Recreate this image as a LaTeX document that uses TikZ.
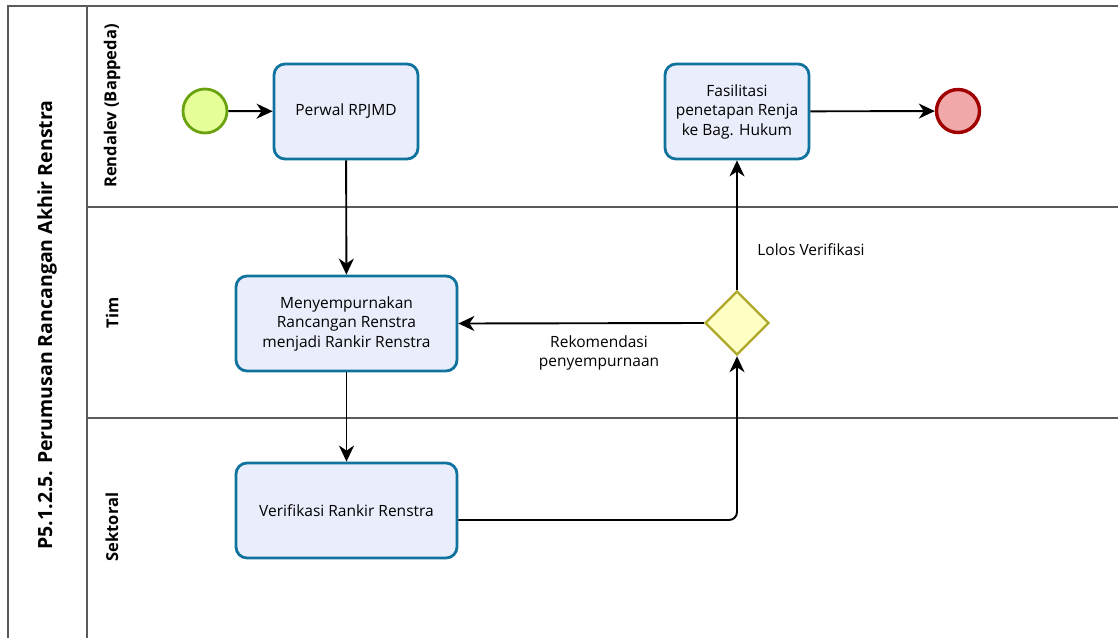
\documentclass[tikz,border=0pt]{standalone}
\usepackage{fontspec}
\setmainfont{Open Sans}
\usetikzlibrary{shapes.geometric,arrows.meta}
\definecolor{taskfill}{HTML}{EAEEFC}
\definecolor{taskdraw}{HTML}{10739E}
\definecolor{startfill}{HTML}{E6FF99}
\definecolor{startdraw}{HTML}{6AA30F}
\definecolor{endfill}{HTML}{F0A8A8}
\definecolor{enddraw}{HTML}{A10000}
\definecolor{gwfill}{HTML}{FFFFC4}
\definecolor{gwdraw}{HTML}{ADA92A}
\definecolor{poolline}{HTML}{5A5A5A}
\begin{document}
\begin{tikzpicture}[x=1pt,y=-1pt,
  txt/.style={font=\fontsize{15.5}{19.5}\selectfont},
  task/.style={draw=taskdraw,fill=taskfill,line width=2.8pt,rounded corners=11pt,
    align=center,txt,inner sep=0pt},
  startev/.style={circle,draw=startdraw,fill=startfill,line width=2.8pt,minimum size=44pt,inner sep=0pt},
  endev/.style={circle,draw=enddraw,fill=endfill,line width=3.4pt,minimum size=43pt,inner sep=0pt},
  gateway/.style={diamond,draw=gwdraw,fill=gwfill,line width=2.4pt,minimum width=64pt,minimum height=64pt,inner sep=0pt},
  flow/.style={draw=black,line width=1.9pt,-{Stealth[length=16pt,width=15pt,inset=5pt]}},
  lbl/.style={txt,align=center},
  lanelbl/.style={rotate=90,font=\fontsize{16.5}{19}\selectfont\bfseries},
  pool/.style={draw=poolline,line width=1.8pt}]
\useasboundingbox (0,0) rectangle (1118,637);
% pool and lanes
\draw[pool] (1120,6) -- (8,6) -- (8,640);
\draw[pool] (87,6) -- (87,640);
\draw[pool] (87,207) -- (1120,207);
\draw[pool] (87,418) -- (1120,418);
\node[rotate=90,font=\fontsize{19.5}{23}\selectfont\bfseries] (pooltitle) at (47,325) {P5.1.2.5. Perumusan Rancangan Akhir Renstra};
\node[lanelbl] (lane1) at (112,106) {Rendalev (Bappeda)};
\node[lanelbl] (lane2) at (112,313) {Tim};
\node[lanelbl] (lane3) at (112,527) {Sektoral};
% nodes
\node[startev] (start) at (205,111) {};
\node[task,minimum width=144pt,minimum height=95pt] (perwal) at (346,111.5) {Perwal RPJMD};
\node[task,minimum width=144pt,minimum height=95pt] (fasil) at (737,111.5) {Fasilitasi\\penetapan Renja\\ke Bag. Hukum};
\node[endev] (end) at (958,111) {};
\node[task,minimum width=221pt,minimum height=95pt] (menyemp) at (346.5,323.5) {Menyempurnakan\\Rancangan Renstra\\menjadi Rankir Renstra};
\node[gateway] (gw) at (737,323) {};
\node[task,minimum width=221pt,minimum height=95pt] (verif) at (346.5,510.5) {Verifikasi Rankir Renstra};
% flows
\draw[flow] (start) -- (perwal);
\draw[flow] (fasil) -- (end);
\draw[flow] (perwal) -- (menyemp);
\draw[flow] (menyemp) -- (verif);
\coordinate (corner) at (737,520);
\draw[flow,rounded corners=8pt] (verif.east |- corner) -- (corner) -- (gw.south);
\draw[flow] (gw.west) -- (menyemp.east);
\draw[flow] (gw.north) -- (fasil.south);
\node[lbl] (rek) at (599,353) {Rekomendasi\\penyempurnaan};
\node[lbl] (lolos) at (811,250) {Lolos Verifikasi};
\end{tikzpicture}
\end{document}
